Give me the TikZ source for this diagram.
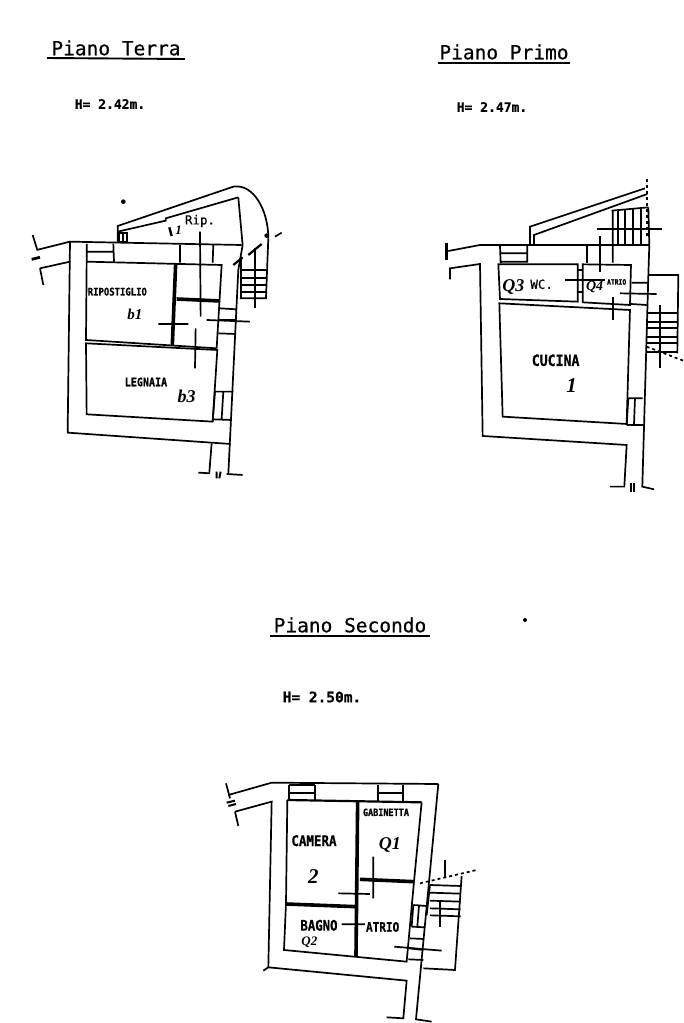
\documentclass[tikz,border=0pt]{standalone}
\usepackage{fontspec}
\usetikzlibrary{positioning}
\newfontfamily\platefont[FakeBold=0.5]{DejaVu Sans Mono}
\newfontfamily\roomfont[FakeStretch=0.85,FakeBold=0.6]{DejaVu Sans Mono Bold}
\newfontfamily\handfont{Liberation Serif Bold Italic}
\tikzset{
  wall/.style={line width=1.7pt},
  thickwall/.style={line width=3.6pt},
  titlelabel/.style={inner sep=0pt,font=\platefont\fontsize{19.5}{20}\selectfont},
  heightlabel/.style={inner sep=0pt,font=\platefont\bfseries\fontsize{13}{14}\selectfont},
  roomlabel/.style={inner sep=0pt,font=\roomfont\fontsize{13}{14}\selectfont},
  handlabel/.style={inner sep=0pt,font=\handfont\fontsize{18}{19}\selectfont},
  zoomed/.style={x=0.3333pt,y=-0.3333pt}
}
\begin{document}
\begin{tikzpicture}[x=1pt,y=-1pt]
\useasboundingbox (0,0) rectangle (683,1023);
% titles
\node [titlelabel] (terra) at (116,48) {Piano Terra};
\draw [line width=1.9pt] (47,58) -- (185,59);
\node [heightlabel] (hterra) at (110,104) {H= 2.42m.};
\node [titlelabel] (primo) at (504,52) {Piano Primo};
\draw [line width=1.9pt] (438,63) -- (570,63);
\node [heightlabel] (hprimo) at (492,107) {H= 2.47m.};
\node [titlelabel] (secondo) at (350,625) {Piano Secondo};
\draw [line width=1.9pt] (270,636) -- (430,636);
\node [heightlabel,font=\platefont\bfseries\fontsize{14.5}{15}\selectfont] (hsecondo) at (322,697) {H= 2.50m.};
\fill (525,620) circle [radius=2];
% ground floor
\begin{scope}[shift={(20,170)},zoomed,wall]
\draw (38,195) -- (52,240) (60,295) -- (70,345);
\draw (50,240) -- (150,215) -- (665,225);
\draw (60,295) -- (150,275);
\draw (150,215) -- (143,788) -- (632,822);
\draw [line width=2.8pt] (35,268) -- (60,262);
\draw (655,82) -- (668,225) -- (655,300) -- (625,912);
\draw (575,820) -- (568,908);
\draw (535,908) -- (570,910) (620,912) -- (668,915);
\draw [line width=2pt] (590,905) -- (590,925) (602,905) -- (598,925);
% lean-to with the curved end
\draw (293,215) -- (293,168) -- (640,50) .. controls (700,40) and (745,120) .. (745,205);
\draw (293,185) -- (437,152) -- (437,145) -- (655,82);
\draw (297,188) rectangle (320,215) (308,188) -- (308,215);
\fill (310,95) circle [radius=7];
% rooms
\draw (200,222) -- (200,275) (280,222) -- (282,275) (200,245) -- (280,245);
\draw (200,275) -- (605,285) -- (590,535);
\draw (200,275) -- (198,510) -- (590,535);
\draw (198,520) -- (592,540) -- (578,755) -- (200,733) -- cycle;
\draw (480,225) -- (480,278) (580,225) -- (578,278);
\draw [thickwall] (467,282) -- (457,525);
\draw [thickwall] (470,387) -- (600,393);
% openings and windows
\draw (600,415) -- (650,418) (597,450) -- (650,450) (595,490) -- (645,492);
\draw (585,665) -- (640,665) (578,748) -- (635,750) (610,665) -- (605,748) (585,665) -- (578,755);
\draw (415,462) -- (505,462) (560,450) -- (690,455);
\draw (540,185) -- (542,440) (527,475) -- (525,595);
% stairs
\draw (745,205) -- (738,385) -- (660,385);
\foreach \rungy in {300,325,345,365} \draw (660,\rungy) -- (738,\rungy);
\draw (663,262) -- (663,385);
\draw (705,415) -- (705,250);
\draw [line width=2.8pt] (705,300) -- (705,235);
\draw [line width=2.2pt] (640,285) -- (668,262) (685,255) -- (725,222);
\draw (765,200) -- (785,188);
\fill (740,197) circle [radius=7];
\node [inner sep=0pt,font=\platefont\fontsize{12.5}{13}\selectfont] (rip) at (540,153) {Rip.};
\node [handlabel,font=\handfont\fontsize{13}{14}\selectfont] (hlean) at (476,182) {1};
\draw [line width=2.4pt] (448,172) -- (455,198);
\node [roomlabel,font=\roomfont\fontsize{10.5}{11}\selectfont] (ripostiglio) at (292,365) {RIPOSTIGLIO};
\node [handlabel,font=\handfont\fontsize{15}{16}\selectfont] (hripostiglio) at (345,433) {b1};
\node [roomlabel,font=\roomfont\fontsize{11.8}{12}\selectfont] (legnaia) at (378,636) {LEGNAIA};
\node [handlabel] (hlegnaia) at (500,678) {b3};
\end{scope}
% first floor
\begin{scope}[shift={(430,170)},zoomed,wall]
\draw [line width=2.6pt] (50,218) -- (50,270);
\draw (55,243) -- (150,225) -- (658,225);
\draw (60,328) -- (60,295) -- (150,282) -- (158,798) -- (590,825) -- (583,950) -- (540,950);
\draw (658,225) -- (655,320) -- (637,950) -- (672,958);
\draw [line width=2.2pt] (603,940) -- (603,965) (612,940) -- (612,965);
% lean-to and upper stairs
\draw (300,225) -- (300,170) -- (645,55);
\draw (312,222) -- (312,195) -- (652,72);
\draw [dashed] (650,28) -- (650,200);
\draw (545,122) -- (655,112);
\foreach \treadx in {565,585,610,632} \draw (\treadx,118) -- (\treadx,222);
\draw (655,112) -- (658,225) (548,120) -- (548,278);
\draw (500,178) -- (695,178) (510,198) -- (510,305);
% rooms
\draw (210,228) -- (212,280) (292,228) -- (292,278) (210,250) -- (292,250) (210,275) -- (292,275);
\draw (205,283) -- (443,283) -- (443,395) -- (210,387) -- cycle;
\draw (458,283) -- (603,285) -- (600,405) -- (458,397) -- cycle;
\draw (208,400) -- (600,420) -- (590,762) -- (218,740) -- cycle;
\draw (470,228) -- (470,280);
% openings
\draw (605,338) -- (655,338) (603,402) -- (650,405) (570,370) -- (680,372);
\draw (550,380) -- (550,450) (405,330) -- (525,330);
\draw (445,300) -- (458,300) (445,365) -- (458,365);
\draw (595,685) -- (638,685) (590,765) -- (640,765) (615,685) -- (612,765) (595,685) -- (590,765);
% lower stairs
\draw (655,315) -- (745,315) -- (742,550);
\foreach \rungy in {430,455,475,500,520,545} \draw (650,\rungy) -- (742,\rungy);
\draw (690,405) -- (690,595);
\draw [dashed] (650,530) -- (760,572);
\node [roomlabel,font=\roomfont\fontsize{15.5}{16}\selectfont] (cucina) at (377,571) {CUCINA};
\node [inner sep=0pt,font=\platefont\fontsize{12.5}{13}\selectfont] (wc) at (335,343) {WC.};
\node [handlabel] (hwc) at (250,350) {Q3};
\node [handlabel,font=\handfont\fontsize{14}{15}\selectfont] (hatrio) at (494,352) {Q4};
\node [roomlabel,font=\roomfont\fontsize{7.5}{8}\selectfont] (atrio) at (560,336) {ATRIO};
\node [handlabel,font=\handfont\fontsize{21}{22}\selectfont] (hcucina) at (425,648) {1};
\end{scope}
% second floor
\begin{scope}[shift={(210,770)},zoomed,wall]
\draw (48,40) -- (60,85) (75,125) -- (85,168);
\draw (55,75) -- (185,38) -- (685,42);
\draw (75,125) -- (185,95) -- (175,592) -- (590,632) -- (580,745) -- (530,742);
\draw (685,42) -- (618,748) -- (665,755) (175,592) -- (160,602);
\draw [line width=2pt] (50,98) -- (75,92) (55,108) -- (78,102);
% rooms
\draw (238,45) -- (238,90) (315,45) -- (315,90) (238,68) -- (315,68) (238,45) -- (315,45);
\draw (505,45) -- (505,92) (578,45) -- (578,92) (505,68) -- (578,68);
\draw [line width=2.2pt] (232,90) -- (635,97);
\draw (635,97) -- (612,335) -- (590,575) -- (222,540) -- (228,400) -- (232,90);
\draw [thickwall] (443,95) -- (438,558);
\draw [thickwall] (228,402) -- (438,410);
\draw [thickwall] (450,328) -- (612,335);
% openings
\draw (385,370) -- (480,372) (490,260) -- (490,385);
\draw (395,463) -- (465,463) (553,530) -- (695,542);
\draw (610,405) -- (650,408) (605,470) -- (645,472) (600,505) -- (640,507) (597,535) -- (640,540) (595,568) -- (640,570);
\draw (627,408) -- (622,470) (610,405) -- (605,470);
% stairs
\draw [dashed] (630,340) -- (800,300);
\draw (755,318) -- (735,600) -- (640,595);
\foreach \rungy in {345,368,392,415,436} \draw (660,\rungy) -- (752,\rungy+3);
\draw (660,345) -- (650,436);
\draw (705,270) -- (705,325) (690,395) -- (690,470);
\node [roomlabel,font=\roomfont\fontsize{14.7}{15}\selectfont] (camera) at (312,212) {CAMERA};
\node [handlabel,font=\handfont\fontsize{21}{22}\selectfont] (hcamera) at (310,320) {2};
\node [roomlabel,font=\roomfont\fontsize{10}{11}\selectfont] (gabinetta) at (528,127) {GABINETTA};
\node [handlabel] (hgabinetta) at (540,225) {Q1};
\node [roomlabel,font=\roomfont\fontsize{14.5}{15}\selectfont] (bagno) at (327,466) {BAGNO};
\node [handlabel,font=\handfont\fontsize{13}{14}\selectfont] (hbagno) at (298,516) {Q2};
\node [roomlabel] (atrio) at (518,471) {ATRIO};
\end{scope}
\end{tikzpicture}
\end{document}
